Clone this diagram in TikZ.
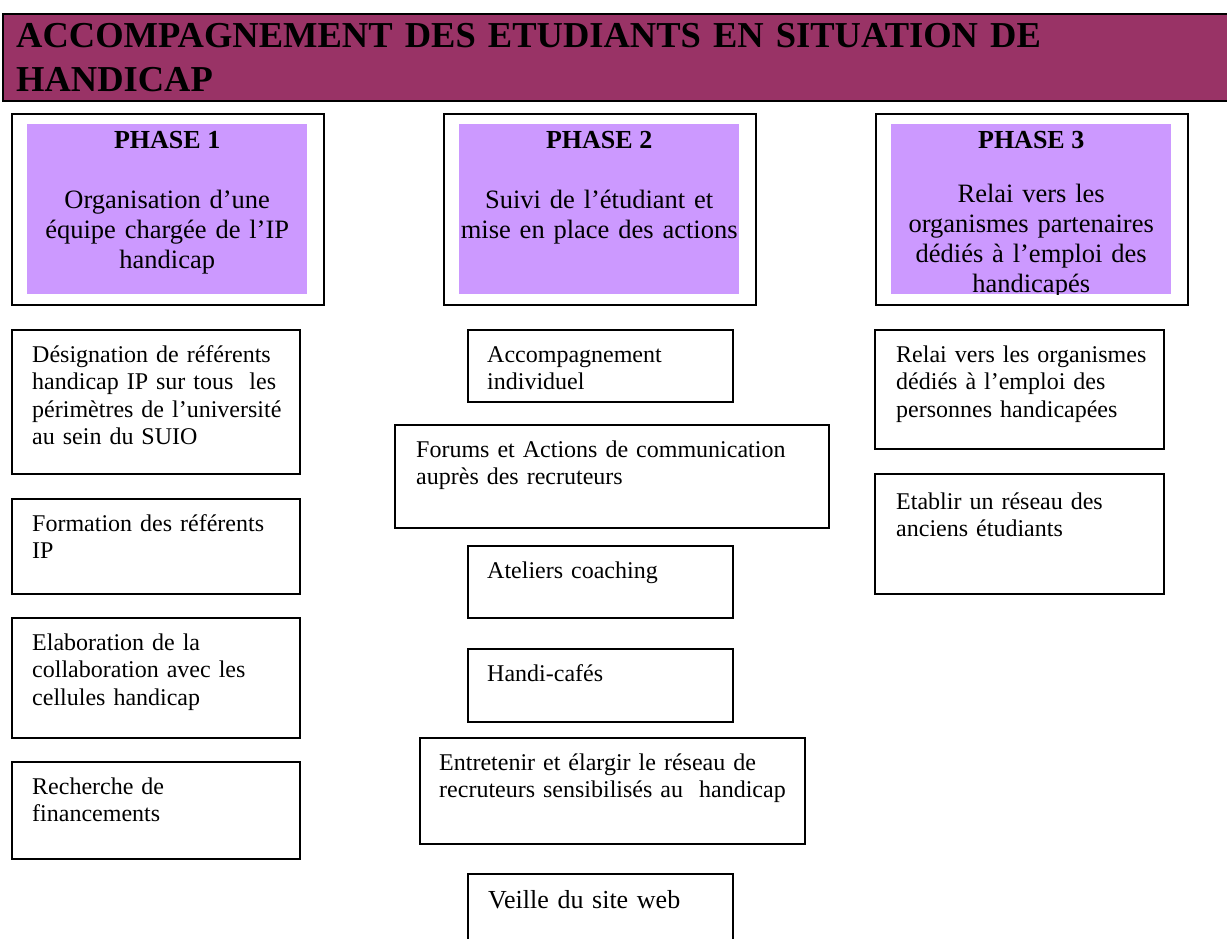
\documentclass[tikz,border=0pt]{standalone}
\usepackage{fontspec}
\setmainfont{Liberation Serif}
\usetikzlibrary{calc}
\definecolor{titlebg}{HTML}{993366}
\definecolor{lav}{HTML}{CC99FF}
\tikzset{
  cell/.style={draw=black, line width=1.6pt, fill=white, inner sep=0pt, anchor=north west},
  pouter/.style={draw=black, line width=2pt, inner sep=0pt, anchor=north west, minimum width=312pt, minimum height=191pt},
  pinner/.style={fill=lav, inner sep=0pt, anchor=north west, minimum width=280pt, minimum height=170pt},
  ctxt/.style={anchor=base west, inner sep=0pt, align=left, font=\fontsize{24}{27.6}\selectfont},
  ptxt/.style={anchor=base, inner sep=0pt, align=center, text width=300pt, font=\fontsize{26.5}{30}\selectfont},
  phead/.style={anchor=base, inner sep=0pt, font=\bfseries\fontsize{26}{30}\selectfont},
}
\begin{document}
\begin{tikzpicture}[x=1pt,y=-1pt]
\useasboundingbox (0,0) rectangle (1227,938);
\clip (0,0) rectangle (1227,938);

% title bar
\node[anchor=north west, fill=titlebg, draw=black, line width=2pt, minimum width=1240pt, minimum height=87pt, inner sep=0pt] (title) at (2,13) {};
\node[anchor=base west, align=left, inner sep=0pt, text width=1150pt, font=\bfseries\fontsize{36.5}{44}\selectfont] (titlet) at ($(title.north west)+(14,34)$) {ACCOMPAGNEMENT DES ETUDIANTS EN SITUATION DE\\HANDICAP};

% phase boxes
\node[pouter] (p1o) at (11,113) {};
\node[pouter] (p2o) at (443,113) {};
\node[pouter] (p3o) at (875,113) {};
\node[pinner] (p1i) at (27,124) {};
\node[pinner] (p2i) at (459,124) {};
\node[pinner] (p3i) at (891,124) {};

\node[phead] (p1h) at ($(p1i.north)+(0,24)$) {PHASE 1};
\node[phead] (p2h) at ($(p2i.north)+(0,24)$) {PHASE 2};
\node[phead] (p3h) at ($(p3i.north)+(0,24)$) {PHASE 3};

\node[ptxt] (p1t) at ($(p1i.north)+(0,84)$) {Organisation d’une\\équipe chargée de l’IP\\handicap};
\node[ptxt] (p2t) at ($(p2i.north)+(0,84)$) {Suivi de l’étudiant et\\mise en place des actions};
\begin{scope}
\clip (p3i.north west) rectangle (p3i.south east);
\node[ptxt] (p3t) at ($(p3i.north)+(0,78)$) {Relai vers les\\organismes partenaires\\dédiés à l’emploi des\\handicapés};
\end{scope}

% left column
\node[cell, minimum width=288pt, minimum height=144pt] (d1) at (11,329) {};
\node[cell, minimum width=288pt, minimum height=95pt] (d2) at (11,498) {};
\node[cell, minimum width=288pt, minimum height=120pt] (d3) at (11,617) {};
\node[cell, minimum width=288pt, minimum height=97pt] (d4) at (11,761) {};
\node[ctxt, text width=262pt] (d1t) at ($(d1.north west)+(21,33)$) {Désignation de référents\\handicap IP sur tous~ les\\périmètres de l’université\\au sein du SUIO};
\node[ctxt, text width=262pt] (d2t) at ($(d2.north west)+(21,33)$) {Formation des référents\\IP};
\node[ctxt, text width=262pt] (d3t) at ($(d3.north west)+(21,33)$) {Elaboration de la\\collaboration avec les\\cellules handicap};
\node[ctxt, text width=262pt] (d4t) at ($(d4.north west)+(21,33)$) {Recherche de\\financements};

% middle column
\node[cell, minimum width=265pt, minimum height=72pt] (m1) at (467,329) {};
\node[cell, minimum width=434pt, minimum height=103pt] (m2) at (394,424) {};
\node[cell, minimum width=265pt, minimum height=72pt] (m3) at (467,545) {};
\node[cell, minimum width=265pt, minimum height=73pt] (m4) at (467,648) {};
\node[cell, minimum width=385pt, minimum height=106pt] (m5) at (419,737) {};
\node[cell, minimum width=265pt, minimum height=90pt] (m6) at (467,873) {};
\node[ctxt, text width=240pt] (m1t) at ($(m1.north west)+(20,33)$) {Accompagnement\\individuel};
\node[ctxt, text width=405pt] (m2t) at ($(m2.north west)+(22,33)$) {Forums et Actions de communication\\auprès des recruteurs};
\node[ctxt, text width=240pt] (m3t) at ($(m3.north west)+(20,33)$) {Ateliers coaching};
\node[ctxt, text width=240pt] (m4t) at ($(m4.north west)+(20,33)$) {Handi-cafés};
\node[ctxt, text width=360pt] (m5t) at ($(m5.north west)+(20,33)$) {Entretenir et élargir le réseau de\\recruteurs sensibilisés au~ handicap};
\node[ctxt, text width=240pt, font=\fontsize{26}{30}\selectfont] (m6t) at ($(m6.north west)+(21,35)$) {Veille du site web};

% right column
\node[cell, minimum width=289pt, minimum height=119pt] (r1) at (874,329) {};
\node[cell, minimum width=289pt, minimum height=120pt] (r2) at (874,473) {};
\node[ctxt, text width=262pt] (r1t) at ($(r1.north west)+(22,33)$) {Relai vers les organismes\\dédiés à l’emploi des\\personnes handicapées};
\node[ctxt, text width=262pt] (r2t) at ($(r2.north west)+(22,36)$) {Etablir un réseau des\\anciens étudiants};
\end{tikzpicture}
\end{document}
